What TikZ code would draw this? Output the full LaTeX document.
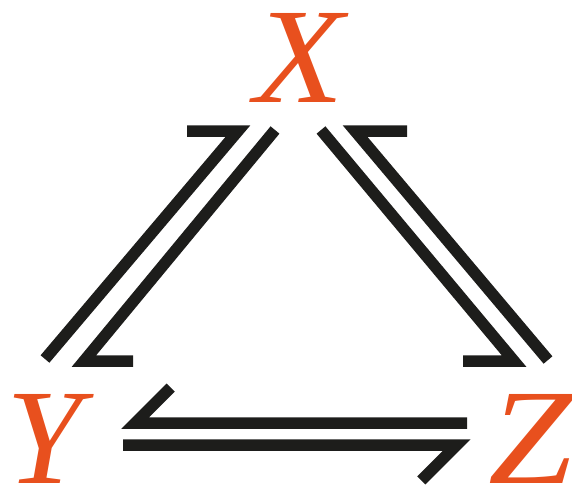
\documentclass[tikz,border=0pt]{standalone}
\usepackage{fontspec}
\setmainfont{Liberation Serif}
\definecolor{orng}{HTML}{E8501E}
\definecolor{ink}{HTML}{1D1D1B}
\begin{document}
\begin{tikzpicture}[x=1pt,y=-1pt,
  harp/.style={draw=ink,line width=11.5pt,line cap=butt,line join=miter},
  lab/.style={text=orng,inner sep=0pt,anchor=base west,font=\fontsize{136}{136}\selectfont\itshape}]
\useasboundingbox (0,0) rectangle (572,490);
% letters
\node[lab,xscale=1.08] (X) at (254,102) {X};
\node[lab] (Y) at (6,483) {Y};
\node[lab,xscale=1.12] (Z) at (488,483) {Z};
% Y -> X (left, outer)
\coordinate (yx0) at (45,359);
\coordinate (yx1) at (238,131);
\coordinate (yx2) at (187,131);
% X -> Y (left, inner)
\coordinate (xy0) at (275,130);
\coordinate (xy1) at (84,361);
\coordinate (xy2) at (133,361);
% Z -> X (right, outer)
\coordinate (zx0) at (548,360);
\coordinate (zx1) at (355,131);
\coordinate (zx2) at (407,131);
% X -> Z (right, inner)
\coordinate (xz0) at (321,130);
\coordinate (xz1) at (514,361);
\coordinate (xz2) at (463,361);
% Z -> Y (bottom, upper)
\coordinate (zy0) at (467,423);
\coordinate (zy1) at (135.3,423);
\coordinate (zy2) at (170.7,387.6);
% Y -> Z (bottom, lower)
\coordinate (yz0) at (123,445);
\coordinate (yz1) at (456.7,445);
\coordinate (yz2) at (421.3,480.4);
\draw[harp] (yx0) -- (yx1) -- (yx2);
\draw[harp] (xy0) -- (xy1) -- (xy2);
\draw[harp] (zx0) -- (zx1) -- (zx2);
\draw[harp] (xz0) -- (xz1) -- (xz2);
\draw[harp] (zy0) -- (zy1) -- (zy2);
\draw[harp] (yz0) -- (yz1) -- (yz2);
\end{tikzpicture}
\end{document}
